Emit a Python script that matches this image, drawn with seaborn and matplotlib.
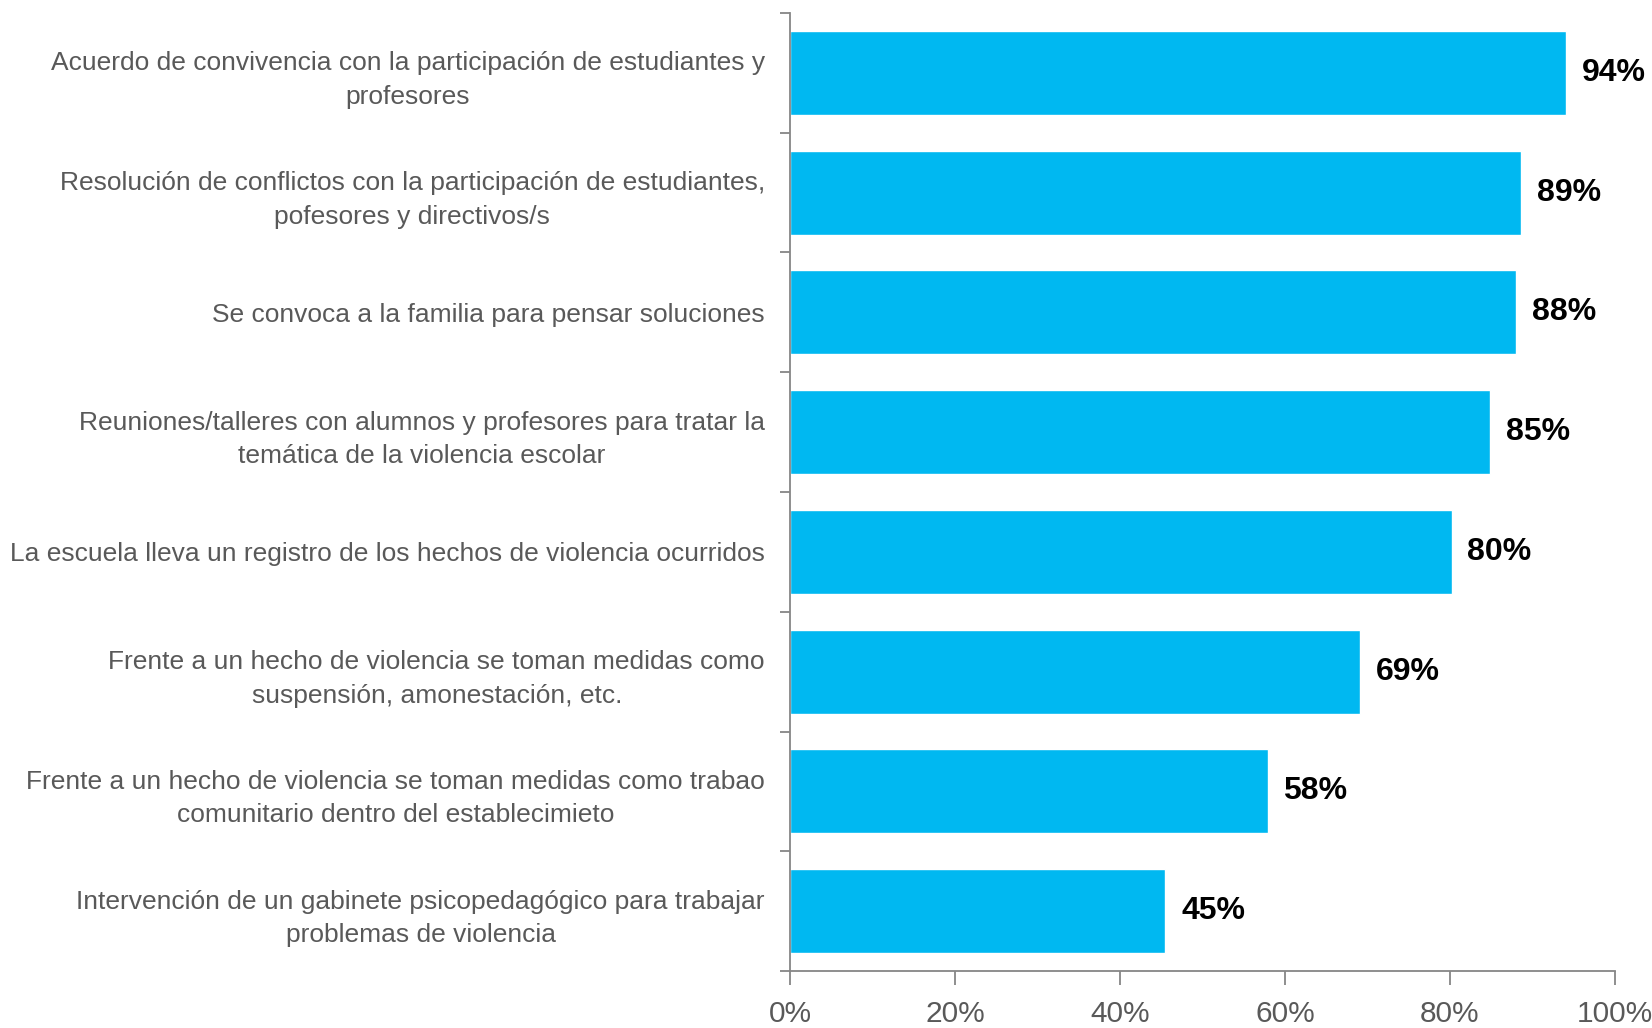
import numpy as np
import pandas as pd
import seaborn as sns
import matplotlib.pyplot as plt
from matplotlib.ticker import FixedLocator, PercentFormatter

categorias = [
    "Acuerdo de convivencia con la participación de estudiantes y\nprofesores",
    "Resolución de conflictos con la participación de estudiantes,\npofesores y directivos/s",
    "Se convoca a la familia para pensar soluciones",
    "Reuniones/talleres con alumnos y profesores para tratar la\ntemática de la violencia escolar",
    "La escuela lleva un registro de los hechos de violencia ocurridos",
    "Frente a un hecho de violencia se toman medidas como\nsuspensión, amonestación, etc.",
    "Frente a un hecho de violencia se toman medidas como trabao\ncomunitario dentro del establecimieto",
    "Intervención de un gabinete psicopedagógico para trabajar\nproblemas de violencia",
]
valores = [94.1, 88.6, 88.0, 84.9, 80.2, 69.1, 57.9, 45.5]
etiquetas = ["94%", "89%", "88%", "85%", "80%", "69%", "58%", "45%"]

df = pd.DataFrame({"cat": categorias, "val": valores})

sns.set_style("white")
plt.rcParams['font.family'] = ['Liberation Sans Narrow', 'Liberation Sans', 'DejaVu Sans']

fig = plt.figure(figsize=(16.52, 10.28), dpi=100)
ax = fig.add_axes([0.4782, 0.0554, 0.4994, 0.932])

sns.barplot(data=df, x="val", y="cat", color="#00B8F1", width=0.7,
            saturation=1, ax=ax, orient="h")

ax.set_xlim(0, 100)
ax.set_ylim(len(categorias) - 0.5, -0.5)
ax.set_xlabel("")
ax.set_ylabel("")

for i, (v, t) in enumerate(zip(valores, etiquetas)):
    ax.text(v + 1.9, i, t, va="center", ha="left", fontsize=23,
            fontweight="bold", color="black")

axis_col = "#868686"
for s in ["top", "right"]:
    ax.spines[s].set_visible(False)
for s in ["left", "bottom"]:
    ax.spines[s].set_color(axis_col)
    ax.spines[s].set_linewidth(1.3)

ax.set_xticks([0, 20, 40, 60, 80, 100])
ax.xaxis.set_major_formatter(PercentFormatter(decimals=0))
ax.tick_params(axis="x", length=10, width=1.3, color=axis_col, direction="out",
               labelsize=21.5, labelcolor="#595959", pad=11, bottom=True)

ax.yaxis.set_minor_locator(FixedLocator(np.arange(-0.5, len(categorias), 1.0)))
ax.tick_params(axis="y", which="minor", length=7, width=1.3, color=axis_col,
               direction="out", left=True)
ax.tick_params(axis="y", which="major", length=0, labelsize=19,
               labelcolor="#595959", pad=18)
for lab in ax.get_yticklabels():
    lab.set_multialignment("center")
    lab.set_linespacing(1.5)

fig.savefig("out.png", dpi=100)
